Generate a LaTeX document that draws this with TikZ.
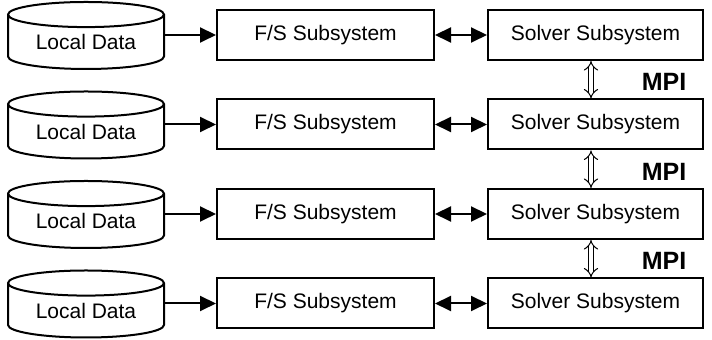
\documentclass[tikz,border=0pt]{standalone}
\usepackage{fontspec}
\setmainfont{Liberation Sans}
\usetikzlibrary{arrows.meta,shapes.geometric}

\begin{document}
\begin{tikzpicture}[x=0.5pt,y=-0.5pt,font=\fontsize{10.5}{12.6}\selectfont,store/.style={draw,line width=1pt,cylinder,shape border rotate=90,aspect=0.25,minimum width=78pt,minimum height=33.5pt,inner sep=0pt,anchor=shape center},subbox/.style={draw,line width=1pt,minimum height=25pt,inner sep=0pt},arr/.style={-{Triangle[length=8pt,width=7.5pt]},line width=1pt},twoway/.style={{Triangle[length=8pt,width=7.5pt]}-{Triangle[length=8pt,width=7.5pt]},line width=1pt},mpiarr/.style={{Implies}-{Implies},double,double distance=2pt,line width=0.5pt},mpilabel/.style={font=\fontsize{12.5}{15}\selectfont\bfseries}]
\useasboundingbox (0,0) rectangle (712,340);
\node[store] (dataone) at (86,35.5){Local Data};
\node[store] (datatwo) at (86,125){Local Data};
\node[store] (datathree) at (86,214.5){Local Data};
\node[store] (datafour) at (86,304){Local Data};
\node[subbox,minimum width=108.5pt] (fsone) at (325.5,35){F/S Subsystem};
\node[subbox,minimum width=108.5pt] (fstwo) at (325.5,124.5){F/S Subsystem};
\node[subbox,minimum width=108.5pt] (fsthree) at (325.5,214){F/S Subsystem};
\node[subbox,minimum width=108.5pt] (fsfour) at (325.5,303.5){F/S Subsystem};
\node[subbox,minimum width=107.5pt] (solverone) at (595.5,35){Solver Subsystem};
\node[subbox,minimum width=107.5pt] (solvertwo) at (595.5,124.5){Solver Subsystem};
\node[subbox,minimum width=107.5pt] (solverthree) at (595.5,214){Solver Subsystem};
\node[subbox,minimum width=107.5pt] (solverfour) at (595.5,303.5){Solver Subsystem};
\draw[arr] (dataone.east |- fsone) -- (fsone);\draw[arr] (datatwo.east |- fstwo) -- (fstwo);\draw[arr] (datathree.east |- fsthree) -- (fsthree);\draw[arr] (datafour.east |- fsfour) -- (fsfour);
\draw[twoway] (fsone) -- (solverone);\draw[twoway] (fstwo) -- (solvertwo);\draw[twoway] (fsthree) -- (solverthree);\draw[twoway] (fsfour) -- (solverfour);
\draw[mpiarr] ([xshift=-2.25pt]solverone.south) -- ([xshift=-2.25pt]solvertwo.north);\draw[mpiarr] ([xshift=-2.25pt]solvertwo.south) -- ([xshift=-2.25pt]solverthree.north);\draw[mpiarr] ([xshift=-2.25pt]solverthree.south) -- ([xshift=-2.25pt]solverfour.north);
\node[mpilabel] (mpione) at (664,82){MPI};
\node[mpilabel] (mpitwo) at (664,171.5){MPI};
\node[mpilabel] (mpithree) at (664,261){MPI};
\end{tikzpicture}
\end{document}
